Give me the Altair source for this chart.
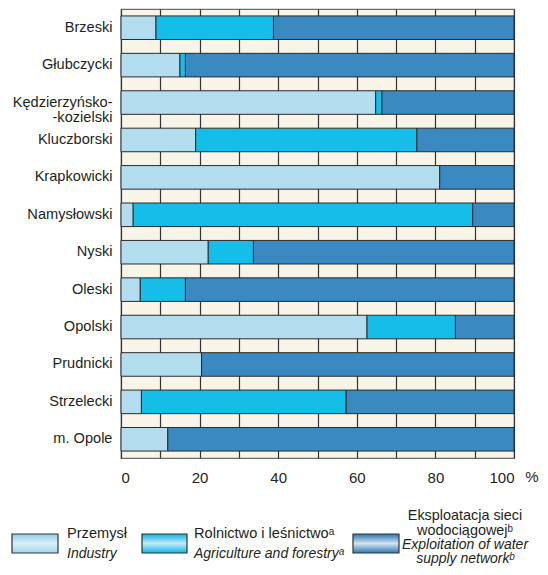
import altair as alt
import pandas as pd

districts = ["Brzeski", "Głubczycki", "Kędzierzyńsko-kozielski", "Kluczborski",
             "Krapkowicki", "Namysłowski", "Nyski", "Oleski", "Opolski",
             "Prudnicki", "Strzelecki", "m. Opole"]
industry = [8.9, 15.0, 64.8, 19.0, 81.1, 3.1, 22.2, 4.9, 62.6, 20.5, 5.2, 11.9]
agriculture = [29.9, 1.4, 1.6, 56.3, 0.0, 86.4, 11.5, 11.5, 22.5, 0.0, 52.1, 0.0]
water = [61.2, 83.6, 33.6, 24.7, 18.9, 10.5, 66.3, 83.6, 14.9, 79.5, 42.7, 88.1]
series = ["Przemysł", "Rolnictwo i leśnictwo", "Eksploatacja sieci wodociągowej"]
colors = ["#b3ddef", "#15bde9", "#3a89c1"]
x_ticks = [0, 10, 20, 30, 40, 50, 60, 70, 80, 90, 100]

rows = []
for i, d in enumerate(districts):
    for k, vals in enumerate([industry, agriculture, water]):
        if vals[i] > 0:
            rows.append({"district": d, "series": series[k], "idx": k, "value": vals[i]})
df = pd.DataFrame(rows)

FONT = "Liberation Sans"
TXT = "#231f20"

label_expr = ("datum.value == 'Kędzierzyńsko-kozielski' ? "
              "['Kędzierzyńsko-', '-kozielski'] : datum.label")

bars = alt.Chart(df).mark_bar(stroke="#2a2a2a", strokeWidth=1).encode(
    y=alt.Y("district:N", sort=districts,
            scale=alt.Scale(paddingInner=0.37, paddingOuter=0.185),
            axis=alt.Axis(title=None, domain=False, ticks=False, labelFont=FONT,
                          labelFontSize=14.6, labelColor=TXT, labelPadding=9,
                          labelExpr=label_expr, labelLineHeight=15)),
    x=alt.X("value:Q", stack="zero",
            scale=alt.Scale(domain=[0, 100], nice=False),
            axis=alt.Axis(values=x_ticks, title=None, domain=False, ticks=False,
                          grid=True, gridColor="#333333", gridWidth=1.2,
                          labelExpr="datum.value % 20 == 0 ? datum.label : ''",
                          labelFont=FONT, labelFontSize=15, labelColor=TXT,
                          labelPadding=12)),
    color=alt.Color("series:N", scale=alt.Scale(domain=series, range=colors), legend=None),
    order=alt.Order("idx:Q"),
)

one = pd.DataFrame({"k": [0]})

pct = alt.Chart(one).mark_text(text="%", font=FONT, fontSize=15, color=TXT,
                               align="center", baseline="middle").encode(
    x=alt.value(411), y=alt.value(468))


def grad(c1, c2, c3):
    return alt.LinearGradient(gradient="linear", x1=0, x2=0, y1=0, y2=1,
                              stops=[alt.GradientStop(color=c1, offset=0),
                                     alt.GradientStop(color=c2, offset=0.5),
                                     alt.GradientStop(color=c3, offset=1)])


grads = [grad("#95cde7", "#d8eff9", "#a3d6ed"),
         grad("#0cb2e3", "#c4eaf8", "#0fb6e5"),
         grad("#2a74b2", "#d3e5f1", "#2d78b5")]
rect_x = [(-109, -63), (21, 66), (232, 278)]

layers = [bars, pct]
for (xa, xb), g in zip(rect_x, grads):
    layers.append(alt.Chart(one).mark_rect(fill=g, stroke="#333333", strokeWidth=1.2).encode(
        x=alt.value(xa), x2=alt.value(xb), y=alt.value(525), y2=alt.value(544)))

legend_texts = [
    ("Przemysł", -54, 529, "left", "normal", 14.6),
    ("Industry", -54, 549, "left", "italic", 14),
    ("Rolnictwo i leśnictwoᵃ", 73, 529, "left", "normal", 14.6),
    ("Agriculture and forestryᵃ", 73, 549, "left", "italic", 14),
    ("Eksploatacja sieci", 344, 511, "center", "normal", 14.4),
    ("wodociągowejᵇ", 344, 525.5, "center", "normal", 14.4),
    ("Exploitation of water", 344, 540, "center", "italic", 14),
    ("supply networkᵇ", 344, 554, "center", "italic", 14),
]
for t, x, y, al, st, fs in legend_texts:
    layers.append(alt.Chart(one).mark_text(text=t, font=FONT, fontSize=fs, fontStyle=st,
                                           color=TXT, align=al, baseline="alphabetic").encode(
        x=alt.value(x), y=alt.value(y)))

chart = alt.layer(*layers).properties(
    width=393, height=449,
    padding={"left": 113, "top": 1, "right": 26, "bottom": 109},
    autosize=alt.AutoSizeParams(type="none"),
).configure_view(fill="#f8f5e8", stroke="#6b6b6b", strokeWidth=1.2)

chart.save("out.html", embed_options={"renderer": "svg", "actions": False})
